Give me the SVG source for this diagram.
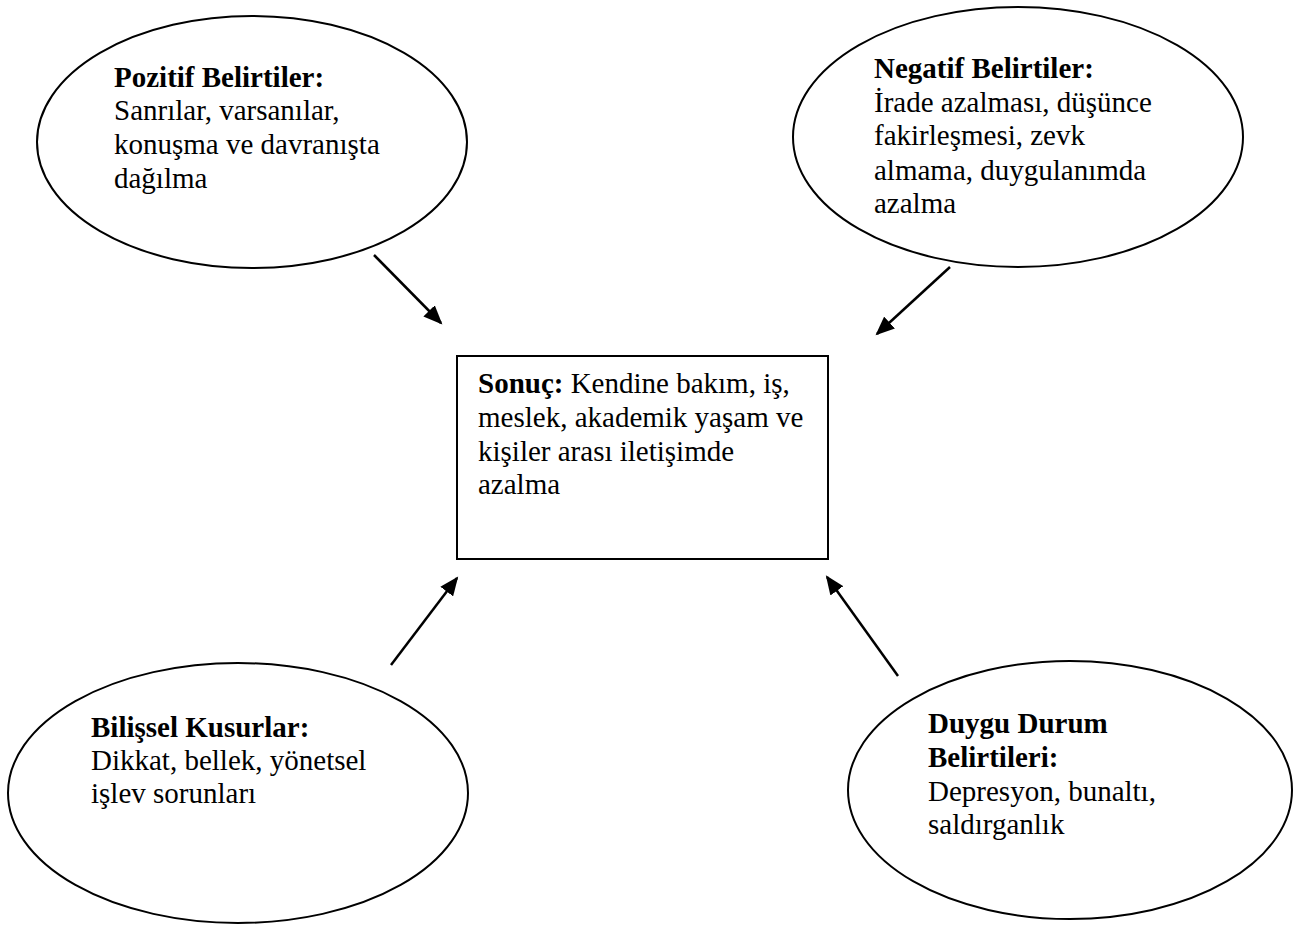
<svg xmlns="http://www.w3.org/2000/svg" width="1295" height="925" viewBox="0 0 1295 925">
  <style>
    .shape { fill: #ffffff; stroke: #000000; stroke-width: 2; }
    .conn { stroke: #000000; stroke-width: 2.5; fill: none; marker-end: url(#arrow); }
    text { font-family: "Liberation Serif", "Times New Roman", serif; font-size: 29px; fill: #000000; }
    .b { font-weight: bold; }
  </style>
  <defs>
    <marker id="arrow" markerUnits="userSpaceOnUse" markerWidth="20" markerHeight="16" refX="17" refY="8" orient="auto">
      <path d="M0,0 L19,8 L0,16 z" fill="#000000"/>
    </marker>
  </defs>
  <rect width="1295" height="925" fill="#ffffff"/>

  <g id="connectors">
    <line class="conn" x1="374" y1="255" x2="441" y2="323"/>
    <line class="conn" x1="950" y1="267" x2="877" y2="334"/>
    <line class="conn" x1="391" y1="665" x2="457" y2="578"/>
    <line class="conn" x1="898" y1="676" x2="827" y2="577"/>
  </g>

  <g id="pozitif">
    <ellipse class="shape" cx="252" cy="142" rx="215" ry="126"/>
    <text x="114" y="87"><tspan class="b">Pozitif Belirtiler:</tspan></text>
    <text x="114" y="120">Sanrılar, varsanılar,</text>
    <text x="114" y="154">konuşma ve davranışta</text>
    <text x="114" y="188">dağılma</text>
  </g>

  <g id="negatif">
    <ellipse class="shape" cx="1018" cy="137" rx="225" ry="130"/>
    <text x="874" y="78"><tspan class="b">Negatif Belirtiler:</tspan></text>
    <text x="874" y="112">İrade azalması, düşünce</text>
    <text x="874" y="145">fakirleşmesi, zevk</text>
    <text x="874" y="180">almama, duygulanımda</text>
    <text x="874" y="213">azalma</text>
  </g>

  <g id="sonuc">
    <rect class="shape" x="457" y="356" width="371" height="203"/>
    <text x="478" y="393"><tspan class="b">Sonuç:</tspan> Kendine bakım, iş,</text>
    <text x="478" y="427">meslek, akademik yaşam ve</text>
    <text x="478" y="461">kişiler arası iletişimde</text>
    <text x="478" y="494">azalma</text>
  </g>

  <g id="bilissel">
    <ellipse class="shape" cx="238" cy="793" rx="230" ry="130"/>
    <text x="91" y="737"><tspan class="b">Bilişsel Kusurlar:</tspan></text>
    <text x="91" y="770">Dikkat, bellek, yönetsel</text>
    <text x="91" y="803">işlev sorunları</text>
  </g>

  <g id="duygu">
    <ellipse class="shape" cx="1070" cy="790" rx="222" ry="129"/>
    <text x="928" y="733"><tspan class="b">Duygu Durum</tspan></text>
    <text x="928" y="767"><tspan class="b">Belirtileri:</tspan></text>
    <text x="928" y="801">Depresyon, bunaltı,</text>
    <text x="928" y="834">saldırganlık</text>
  </g>
</svg>
